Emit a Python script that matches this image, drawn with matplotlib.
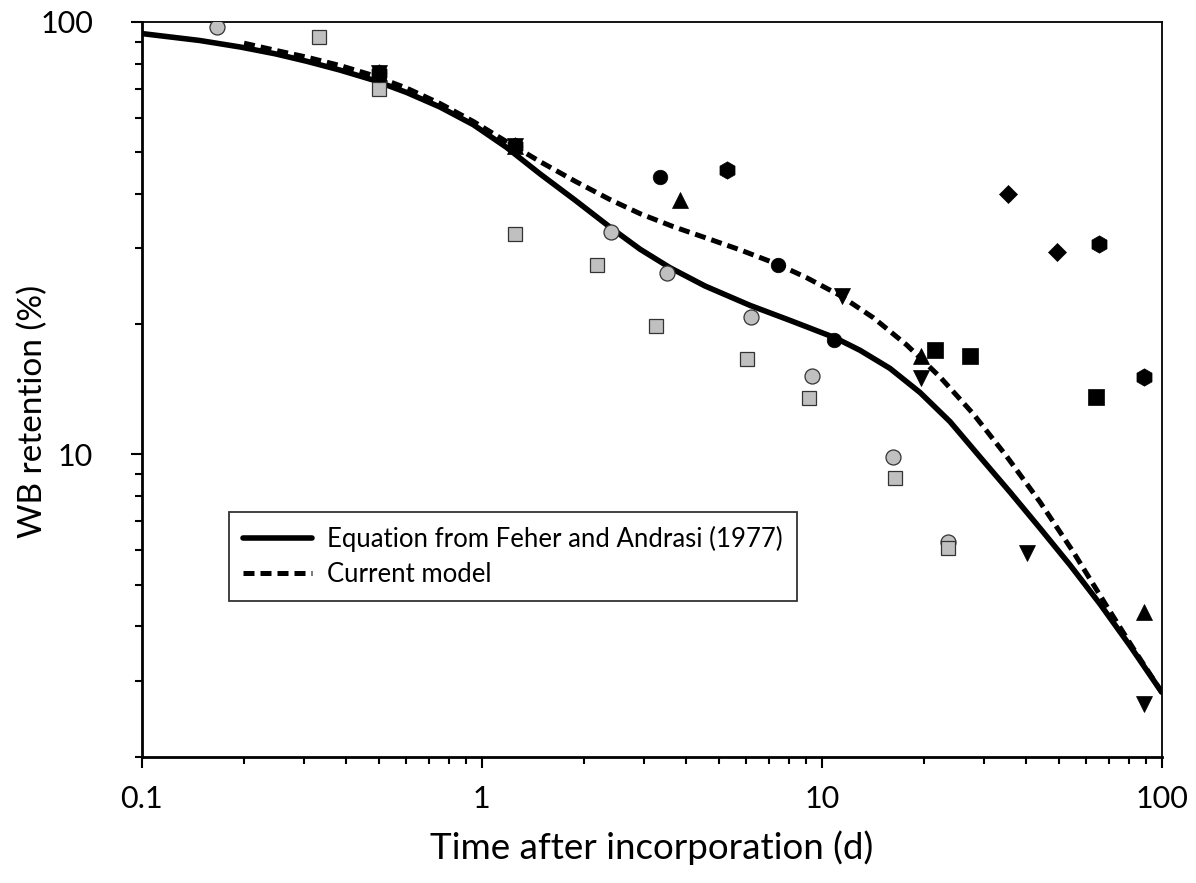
import matplotlib
matplotlib.use("Agg")
import matplotlib.pyplot as plt
from matplotlib.ticker import FixedLocator, NullFormatter

plt.rcParams['font.family'] = ['Lato', 'DejaVu Sans']

# Model curves (time in days, retention in %)
t_feher = [0.1, 0.148, 0.195, 0.247, 0.306, 0.383, 0.48, 0.602, 0.754, 0.945,
           1.184, 1.484, 1.881, 2.385, 2.922, 3.58, 4.537, 6.153, 8.068, 10.94,
           12.96, 15.88, 19.46, 23.85, 29.22, 35.8, 43.86, 53.74, 65.84, 80.68, 100]
r_feher = [93.9, 90.5, 87.4, 84.3, 81.0, 77.3, 73.3, 68.6, 63.5, 57.8,
           51.2, 44.5, 38.7, 33.5, 29.8, 27.0, 24.5, 22.1, 20.4, 18.6,
           17.4, 15.8, 13.9, 11.9, 9.86, 8.18, 6.75, 5.55, 4.51, 3.61, 2.82]

t_model = [0.2, 0.247, 0.306, 0.383, 0.48, 0.602, 0.754, 0.945, 1.184, 1.484,
           1.881, 2.385, 2.922, 3.661, 4.589, 5.75, 7.423, 9.035, 11.32, 14.18,
           17.78, 22.28, 27.92, 35.01, 43.86, 54.95, 68.89, 82.49, 100]
r_model = [89.2, 85.9, 82.8, 79.2, 75.1, 70.2, 64.7, 58.8, 52.8, 47.5,
           42.8, 38.8, 36.0, 33.6, 31.6, 29.7, 27.5, 25.6, 23.3, 20.7,
           17.9, 15.1, 12.4, 9.89, 7.76, 5.95, 4.46, 3.56, 2.82]

# Measured retention from the field studies
t_gray_circle = [0.167, 2.4, 3.5, 6.2, 9.35, 16.2, 23.6]
r_gray_circle = [97.4, 32.6, 26.2, 20.8, 15.2, 9.87, 6.28]

t_gray_square = [0.333, 0.5, 1.25, 2.18, 3.25, 6.04, 9.19, 16.4, 23.5]
r_gray_square = [92.0, 69.8, 32.3, 27.4, 19.8, 16.6, 13.5, 8.83, 6.06]

t_circle = [0.5, 1.25, 3.34, 7.42, 10.9]
r_circle = [76.2, 51.6, 43.7, 27.4, 18.4]

t_tri_up = [0.5, 1.25, 3.83, 19.6, 89]
r_tri_up = [76.2, 51.6, 38.8, 16.9, 4.33]

t_tri_down = [0.5, 1.25, 11.5, 19.6, 40.2, 89]
r_tri_down = [76.2, 51.6, 23.2, 15.0, 5.93, 2.65]

t_square = [21.5, 27.3, 64.2]
r_square = [17.4, 16.9, 13.6]

t_diamond = [35.4, 49.3]
r_diamond = [39.9, 29.3]

t_hexagon = [0.5, 1.25, 5.27, 65.3, 89]
r_hexagon = [76.2, 51.6, 45.4, 30.6, 15.1]

fig = plt.figure(figsize=(11.96, 8.83), dpi=100)
ax = fig.add_axes([0.1185, 0.1430, 0.8528, 0.8324])

ax.plot(t_feher, r_feher, color='black', lw=4.0, solid_joinstyle='round',
        solid_capstyle='round',
        label='Equation from Feher and Andrasi (1977)', zorder=2)
ax.plot(t_model, r_model, color='black', lw=3.6, ls=(0, (2.2, 1.2)),
        label='Current model', zorder=2)

gray = dict(color='#c0c0c0', markeredgecolor='#333333', markeredgewidth=0.9,
            ls='none', zorder=3)
black = dict(color='black', markeredgecolor='black', markeredgewidth=0.5,
             ls='none', zorder=4)

ax.plot(t_gray_circle, r_gray_circle, marker='o', ms=10.8, **gray)
ax.plot(t_gray_square, r_gray_square, marker='s', ms=10, **gray)
ax.plot(t_hexagon, r_hexagon, marker='h', ms=12.5, **black)
ax.plot(t_circle, r_circle, marker='o', ms=10.5, **black)
ax.plot(t_tri_up, r_tri_up, marker='^', ms=11, **black)
ax.plot(t_tri_down, r_tri_down, marker='v', ms=11, **black)
ax.plot(t_square, r_square, marker='s', ms=11, **black)
ax.plot(t_diamond, r_diamond, marker='D', ms=9.5, **black)

ax.set_xscale('log')
ax.set_yscale('log')
ax.set_xlim(0.1, 100)
ax.set_ylim(2, 100)

ax.set_xticks([0.1, 1, 10, 100])
ax.set_xticklabels(['0.1', '1', '10', '100'])
ax.set_yticks([10, 100])
ax.set_yticklabels(['10', '100'])
ax.xaxis.set_minor_locator(FixedLocator(
    [m * d for d in (0.1, 1, 10) for m in range(2, 10)]))
ax.yaxis.set_minor_locator(FixedLocator(
    [m * d for d in (1, 10) for m in range(2, 10)]))
ax.xaxis.set_minor_formatter(NullFormatter())
ax.yaxis.set_minor_formatter(NullFormatter())

ax.tick_params(which='both', direction='out', top=False, right=False,
               width=1.5, labelsize=22)
ax.tick_params(axis='x', which='major', length=8, pad=12)
ax.tick_params(axis='x', which='minor', length=5)
ax.tick_params(axis='y', which='major', length=8, pad=27)
ax.tick_params(axis='y', which='minor', length=5)

for side in ('left', 'bottom'):
    ax.spines[side].set_linewidth(2.0)
for side in ('top', 'right'):
    ax.spines[side].set_linewidth(1.3)

ax.set_xlabel('Time after incorporation (d)', fontsize=26.5, labelpad=13)
ax.set_ylabel('WB retention (%)', fontsize=24)
ax.yaxis.set_label_coords(-0.092, 0.47)

leg = ax.legend(loc='upper left', bbox_to_anchor=(0.0859, 0.3335),
                borderaxespad=0, fontsize=18.5, handlelength=2.65,
                handletextpad=0.62, labelspacing=0.4, borderpad=0.55,
                frameon=True, fancybox=False, edgecolor='black')
leg.get_frame().set_linewidth(1.3)

fig.savefig('out.png', dpi=100)
